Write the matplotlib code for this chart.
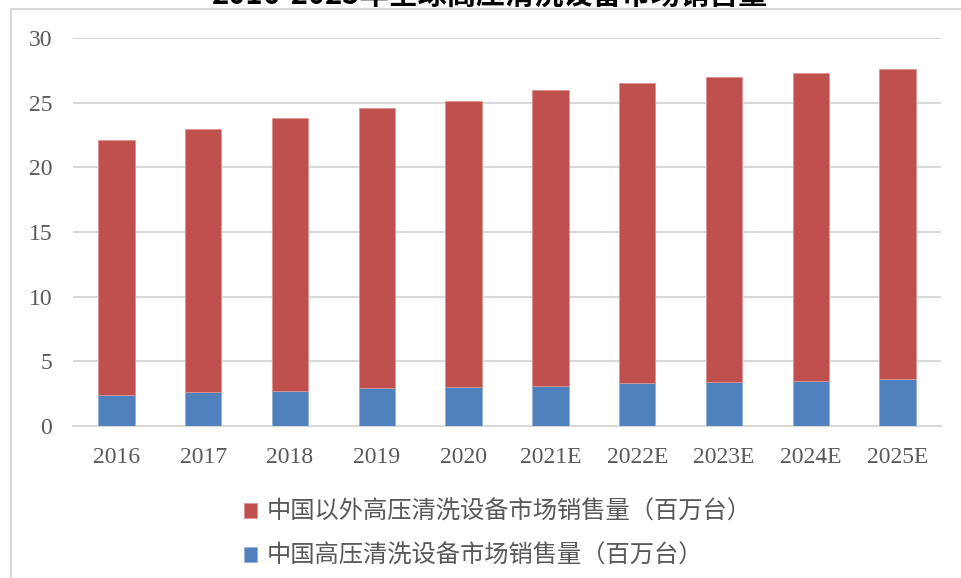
import matplotlib
matplotlib.use("Agg")
import matplotlib.pyplot as plt
from matplotlib.lines import Line2D
import numpy as np

categories = ["2016", "2017", "2018", "2019", "2020", "2021E", "2022E", "2023E", "2024E", "2025E"]
china = [2.4, 2.6, 2.7, 2.9, 3.0, 3.1, 3.3, 3.4, 3.5, 3.6]
outside_china = [19.7, 20.4, 21.1, 21.7, 22.1, 22.9, 23.2, 23.6, 23.8, 24.0]
yticks = [0, 5, 10, 15, 20, 25, 30]
label_outside = "中国以外高压清洗设备市场销售量（百万台）"
label_china = "中国高压清洗设备市场销售量（百万台）"
title = "2016-2025年全球高压清洗设备市场销售量"

W, H = 961, 578
fig = plt.figure(figsize=(W / 100, H / 100), dpi=100)
fig.patch.set_facecolor("white")

ax = fig.add_axes([73 / W, (H - 426) / H, (941 - 73) / W, (426 - 38) / H])
x = np.arange(len(categories))
bw = 0.42
red = "#C0504D"
blue = "#4F81BD"
b1 = ax.bar(x, china, bw, color=blue, edgecolor="#8fb0d8", linewidth=0.6, zorder=3, label=label_china)
b2 = ax.bar(x, outside_china, bw, bottom=china, color=red, edgecolor="#dc9492", linewidth=0.6, zorder=3, label=label_outside)

ax.set_xlim(-0.5, len(categories) - 0.5)
ax.set_ylim(0, 30)
ax.set_yticks(yticks)
ax.yaxis.grid(True, color="#d9d9d9", linewidth=1.5, zorder=0)
ax.set_axisbelow(True)
for s in ["top", "right", "left"]:
    ax.spines[s].set_visible(False)
ax.spines["bottom"].set_color("#d9d9d9")
ax.spines["bottom"].set_linewidth(1.5)
ax.tick_params(axis="both", length=0, colors="#595959", labelsize=17)
ax.tick_params(axis="y", pad=15)
ax.tick_params(axis="x", pad=15)
ax.set_xticks(x)
ax.set_xticklabels(categories)
for lab in ax.get_xticklabels() + ax.get_yticklabels():
    lab.set_fontfamily("Liberation Serif")

leg = fig.legend([b2, b1], [label_outside, label_china], loc="upper left",
                 bbox_to_anchor=(222 / W, 1 - 477 / H), frameon=False,
                 prop={"family": ["Noto Sans CJK SC", "DejaVu Sans"], "size": 17.5},
                 handlelength=0.55, handleheight=0.55, handletextpad=0.4,
                 labelspacing=0.75, labelcolor="#595959")

fig.text(490 / W, 1 - 4 / H, title, ha="center", va="baseline",
         fontsize=21, fontweight="bold", color="black",
         family=["Noto Sans CJK SC", "DejaVu Sans"])

fig.add_artist(Line2D([11 / W, 11 / W], [0, 1 - 9 / H], transform=fig.transFigure, color="#d9d9d9", linewidth=1.5))
fig.add_artist(Line2D([11 / W, 1], [1 - 9 / H, 1 - 9 / H], transform=fig.transFigure, color="#d9d9d9", linewidth=1.5))

fig.savefig("out.png", dpi=100, facecolor="white")
